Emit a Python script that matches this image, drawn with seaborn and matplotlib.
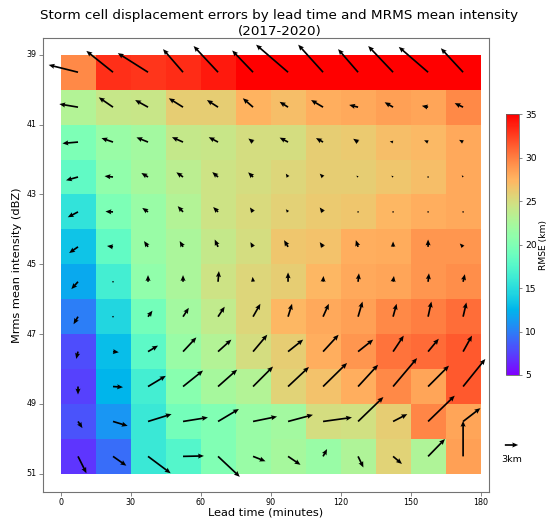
import numpy as np
import pandas as pd
import matplotlib
matplotlib.use("Agg")
import matplotlib.pyplot as plt
import seaborn as sns

# ---- data ----
lead_times = [7.5, 22.5, 37.5, 52.5, 67.5, 82.5, 97.5, 112.5, 127.5, 142.5, 157.5, 172.5]
intensity = [39, 40, 41, 42, 43, 44, 45, 46, 47, 48, 49, 50]
x_tick_labels = ["0", "30", "60", "90", "120", "150", "180"]
y_tick_labels = ["39", "41", "43", "45", "47", "49", "51"]

rmse_39 = [29.6, 33.2, 33.0, 33.3, 34.0, 35, 35, 35, 35, 35, 35, 35]
rmse_40 = [23.0, 24.2, 24.3, 26.0, 26.0, 27.5, 27.0, 27.8, 28.0, 28.5, 28.3, 29.5]
rmse_41 = [19.8, 21.5, 22.0, 24.0, 24.3, 25.0, 25.0, 26.0, 26.3, 27.0, 27.2, 28.0]
rmse_42 = [18.2, 21.0, 22.3, 23.5, 24.5, 25.0, 25.5, 26.0, 26.0, 26.5, 27.0, 28.0]
rmse_43 = [15.5, 19.8, 21.5, 23.0, 24.5, 25.2, 25.8, 26.3, 26.5, 27.3, 27.8, 28.0]
rmse_44 = [13.4, 18.3, 21.5, 22.5, 24.0, 25.0, 26.5, 26.7, 27.8, 27.9, 29.0, 29.0]
rmse_45 = [12.0, 16.5, 21.0, 22.5, 24.5, 25.5, 26.0, 27.3, 28.0, 28.3, 29.0, 29.3]
rmse_46 = [10.0, 14.5, 19.3, 22.0, 23.8, 25.5, 27.3, 28.0, 28.5, 29.5, 30.0, 30.7]
rmse_47 = [8.0, 13.0, 18.0, 21.5, 23.0, 25.0, 26.0, 27.8, 29.0, 30.5, 30.8, 31.5]
rmse_48 = [7.5, 12.5, 16.5, 20.5, 22.3, 23.0, 25.7, 26.7, 27.8, 29.5, 28.3, 31.5]
rmse_49 = [8.2, 11.0, 16.0, 19.3, 20.0, 21.5, 22.0, 25.0, 24.7, 26.0, 29.7, 28.3]
rmse_50 = [7.0, 9.3, 16.0, 17.5, 20.0, 21.5, 22.3, 21.5, 22.8, 25.7, 22.8, 28.5]

# displacement error components (km), u eastward, v upward on the plot
u_39 = [-6.6, -6.0, -6.8, -4.5, -5.5, -4.7, -7.2, -5.6, -4.5, -5.6, -6.6, -5.0]
v_39 = [1.65, 4.8, 4.3, 5.2, 5.9, 4.9, 6.2, 6.2, 5.2, 5.9, 5.7, 5.4]
u_40 = [-4.2, -3.2, -2.9, -3.2, -2.5, -2.3, -1.9, -2.7, -2.0, -1.9, -1.4, -1.9]
v_40 = [0.7, 2.2, 1.6, 2.0, 1.6, 2.0, 1.2, 1.6, 0.5, 1.1, 0.3, 0.9]
u_41 = [-3.5, -2.6, -2.6, -2.5, -2.1, -1.05, -1.9, -1.6, -1.1, -0.75, -0.9, -0.9]
v_41 = [-0.3, 0.9, 1.05, 1.1, 1.1, 0.8, 1.0, 0.9, 0.75, 0.15, 0.4, 0.5]
u_42 = [-2.7, -1.9, -1.5, -1.5, -1.3, -1.1, -0.5, -0.75, -0.4, -0.4, -0.2, -0.3]
v_42 = [-0.75, 0.2, 0.9, 1.05, 1.1, 1.05, 0.75, 0.75, 0.3, 0.3, 0.1, 0.4]
u_43 = [-2.3, -1.7, -1.3, -1.2, -1.1, -0.7, -0.5, -0.75, -0.1, -0.1, -0.1, -0.05]
v_43 = [-1.2, 0.1, 0.9, 1.3, 1.1, 1.0, 0.6, 1.0, 0.1, 0.1, 0.05, -0.05]
u_44 = [-2.0, -1.35, -0.9, -0.75, -0.75, -0.6, -0.9, -0.75, -0.5, 0.0, 0.0, -0.75]
v_44 = [-1.4, 0.2, 1.3, 1.3, 1.65, 1.05, 1.5, 1.05, 1.5, 1.2, 1.65, 0.75]
u_45 = [-1.5, -0.1, 0.0, 0.0, 0.2, -0.1, 0.0, 0.1, 0.2, 0.2, 0.2, 0.4]
v_45 = [-1.65, 0.05, 1.5, 1.5, 2.4, 1.1, 2.1, 1.3, 1.9, 1.3, 1.9, 1.7]
u_46 = [-1.0, 0.05, 1.0, 1.3, 1.5, 1.65, 0.9, 1.3, 1.0, 0.8, 0.75, 0.75]
v_46 = [-1.7, -0.05, 1.35, 2.0, 2.25, 2.9, 2.9, 2.9, 3.4, 2.9, 3.4, 3.2]
u_47 = [-0.4, 1.3, 2.25, 3.0, 3.0, 3.2, 3.4, 3.5, 3.4, 2.4, 2.4, 2.0]
v_47 = [-1.65, -0.15, 1.35, 3.2, 2.7, 3.8, 2.7, 3.8, 2.7, 3.6, 2.9, 3.6]
u_48 = [0.0, 2.25, 4.0, 4.5, 4.3, 4.5, 4.7, 5.4, 4.5, 5.4, 4.7, 5.0]
v_48 = [-1.8, -0.15, 2.4, 3.6, 3.8, 4.5, 4.4, 5.3, 4.9, 6.4, 4.7, 6.2]
u_49 = [1.0, 3.3, 5.3, 5.6, 4.7, 5.4, 5.6, 6.5, 5.7, 3.2, 6.0, 3.9]
v_49 = [-1.5, -1.0, 1.65, 0.9, 2.8, 1.1, 1.5, 0.9, 5.5, 1.65, 5.8, 3.0]
u_50 = [1.9, 3.0, 5.1, 4.7, 4.9, 2.8, 2.8, 0.9, 1.2, 2.0, 3.8, 0.0]
v_50 = [-3.8, -2.1, -3.8, 0.1, -4.6, -1.1, -1.9, 1.65, -2.5, -1.7, 3.9, 8.0]

rmse = np.array([rmse_39, rmse_40, rmse_41, rmse_42, rmse_43, rmse_44,
                 rmse_45, rmse_46, rmse_47, rmse_48, rmse_49, rmse_50])
U = np.array([u_39, u_40, u_41, u_42, u_43, u_44, u_45, u_46, u_47, u_48, u_49, u_50])
V = np.array([v_39, v_40, v_41, v_42, v_43, v_44, v_45, v_46, v_47, v_48, v_49, v_50])

df = pd.DataFrame(rmse, index=intensity, columns=lead_times)

# ---- figure ----
W, H = 551, 518
fig = plt.figure(figsize=(W / 100, H / 100), dpi=100)
ax = fig.add_axes([43 / W, 1 - 492 / H, 446 / W, 454 / H])
cax = fig.add_axes([505.7 / W, 1 - 375 / H, 13.6 / W, 260.7 / H])

sns.heatmap(df, ax=ax, cmap="rainbow", vmin=5, vmax=35, cbar_ax=cax,
            cbar_kws={"ticks": [5, 10, 15, 20, 25, 30, 35]})

# arrows at cell centres
gx, gy = np.meshgrid(np.arange(len(lead_times)) + 0.5, np.arange(len(intensity)) + 0.5)
q = ax.quiver(gx, gy, U, V, angles="uv", scale_units="inches", scale=22.5,
              pivot="tail", width=0.0038, headwidth=3.0, headlength=3.5,
              headaxislength=3.1, color="black", zorder=3)
ax.quiverkey(q, 511.5 / W, 1 - 445 / H, 3, "3km", labelpos="S",
             coordinates="figure", fontproperties={"size": 6.8})

ax.set_xlim(-0.5, 12.24)
ax.set_ylim(12.52, -0.48)
ax.set_xticks(np.arange(0, 13, 2))
ax.set_xticklabels(x_tick_labels, rotation=0, fontsize=5.8)
ax.set_yticks(np.arange(0, 13, 2))
ax.set_yticklabels(y_tick_labels, rotation=0, fontsize=5.8)
ax.tick_params(length=3, width=0.6, color="0.45", pad=1.5)
for s in ax.spines.values():
    s.set_visible(True)
    s.set_color("0.45")
    s.set_linewidth(0.8)

ax.set_xlabel("Lead time (minutes)", fontsize=8.2)
ax.xaxis.set_label_coords(0.5, -(512.5 - 492) / 454, transform=ax.transAxes)
ax.xaxis.label.set_va("center")
ax.set_ylabel("Mrms mean intensity (dBZ)", fontsize=8.2)
ax.yaxis.set_label_coords(-(43 - 17) / 446, 0.5, transform=ax.transAxes)
ax.yaxis.label.set_va("center")

cb = ax.collections[0].colorbar
cb.outline.set_visible(True)
cb.outline.set_linewidth(0.6)
cb.outline.set_edgecolor("0.4")
cax.tick_params(labelsize=6.6, length=2.5, width=0.6, color="0.45", pad=1.5)
cb.set_label("RMSE (km)", fontsize=6.6, labelpad=2)

fig.text(0.507, 1 - 9.5 / H,
         "Storm cell displacement errors by lead time and MRMS mean intensity\n(2017-2020)",
         ha="center", va="top", fontsize=9.7, linespacing=1.2)

fig.savefig("out.png", dpi=100)
